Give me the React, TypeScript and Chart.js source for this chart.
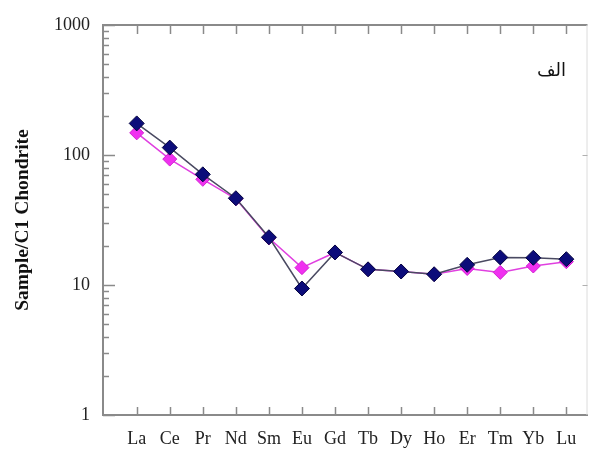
import React, { useEffect, useRef } from "react";
import { Chart, registerables } from "chart.js";

Chart.register(...registerables);

const elements = ["La", "Ce", "Pr", "Nd", "Sm", "Eu", "Gd", "Tb", "Dy", "Ho", "Er", "Tm", "Yb", "Lu"];
const sampleNavy = [175, 114, 71, 46.5, 23.3, 9.4, 17.8, 13.2, 12.7, 12.1, 14.3, 16.3, 16.2, 15.8];
const sampleMagenta = [148, 93, 65, 46, 23, 13.6, 17.8, 13.2, 12.7, 12.1, 13.4, 12.5, 14.0, 15.1];
const yDecades = [1, 10, 100, 1000];
const panelLabel = "الف";
const yTitle = "Sample/C1 Chondrite";

const AXIS = "#8a8a8a";

const tickPlugin = {
  id: "insideTicks",
  afterDraw(chart: any) {
    const { ctx, chartArea, scales } = chart;
    const xs = scales.x;
    const ys = scales.y;
    ctx.save();
    // top axis line
    ctx.strokeStyle = AXIS;
    ctx.lineWidth = 2;
    ctx.beginPath();
    ctx.moveTo(chartArea.left - 1, chartArea.top);
    ctx.lineTo(chartArea.right, chartArea.top);
    ctx.stroke();
    // right axis faint
    ctx.strokeStyle = "#dcdcdc";
    ctx.lineWidth = 1;
    ctx.beginPath();
    ctx.moveTo(chartArea.right - 0.5, chartArea.top);
    ctx.lineTo(chartArea.right - 0.5, chartArea.bottom);
    ctx.stroke();
    ctx.strokeStyle = "#b0b0b0";
    for (const d of [10, 100]) {
      const py = Math.round(ys.getPixelForValue(d)) + 0.5;
      ctx.beginPath();
      ctx.moveTo(chartArea.right, py);
      ctx.lineTo(chartArea.right - 5, py);
      ctx.stroke();
    }
    // x ticks bottom and top
    ctx.strokeStyle = AXIS;
    ctx.lineWidth = 1.5;
    elements.forEach((_, i) => {
      const px = Math.round(xs.getPixelForValue(i)) + 0.5;
      ctx.beginPath();
      ctx.moveTo(px, chartArea.bottom);
      ctx.lineTo(px, chartArea.bottom - 8);
      ctx.moveTo(px, chartArea.top);
      ctx.lineTo(px, chartArea.top + 9);
      ctx.stroke();
    });
    // y ticks (log minor + major)
    for (let k = 0; k < yDecades.length; k++) {
      const base = yDecades[k];
      for (let m = 1; m <= 9; m++) {
        const v = base * m;
        if (v > yDecades[yDecades.length - 1]) break;
        const py = Math.round(ys.getPixelForValue(v)) + 0.5;
        const len = m === 1 ? 12 : 6;
        ctx.beginPath();
        ctx.moveTo(chartArea.left, py);
        ctx.lineTo(chartArea.left + len, py);
        ctx.stroke();
      }
    }
    // panel label
    ctx.fillStyle = "#111";
    ctx.font = '18px "DejaVu Sans"';
    ctx.textAlign = "center";
    ctx.textBaseline = "middle";
    ctx.direction = "rtl";
    ctx.fillText(panelLabel, chartArea.right - 36, chartArea.top + 46);
    ctx.restore();
  },
};

export default function App() {
  const ref = useRef<HTMLCanvasElement | null>(null);
  useEffect(() => {
    if (!ref.current) return;
    const chart = new Chart(ref.current, {
      type: "line",
      data: {
        datasets: [
          {
            label: "navy",
            data: sampleNavy.map((y, i) => ({ x: i, y })),
            borderColor: "#4a4a62",
            borderWidth: 1.5,
            pointStyle: "rectRot",
            pointRadius: 7.5,
            pointBackgroundColor: "#0c0c7a",
            pointBorderColor: "#050540",
            pointBorderWidth: 1,
            tension: 0,
          },
          {
            label: "magenta",
            data: sampleMagenta.map((y, i) => ({ x: i, y })),
            borderColor: "#e040e0",
            borderWidth: 1.5,
            pointStyle: "rectRot",
            pointRadius: 7,
            pointBackgroundColor: "#f030f0",
            pointBorderColor: "#d020d0",
            pointBorderWidth: 1,
            tension: 0,
          },
        ],
      },
      options: {
        responsive: false,
        animation: false,
        layout: { padding: { top: 25, right: 2, left: 0, bottom: 0 } },
        plugins: { legend: { display: false }, tooltip: { enabled: false } },
        scales: {
          x: {
            type: "linear",
            min: -1.02,
            max: 13.64,
            grid: { display: false, drawTicks: false },
            border: { display: true, color: AXIS, width: 2 },
            afterFit: (s: any) => {
              s.height = 34;
            },
            afterBuildTicks: (s: any) => {
              s.ticks = elements.map((_, i) => ({ value: i }));
            },
            ticks: {
              autoSkip: false,
              maxRotation: 0,
              padding: 13,
              color: "#222",
              font: { family: '"Liberation Serif", serif', size: 18 },
              callback: (v: any) => elements[v as number] ?? "",
            },
          },
          y: {
            type: "logarithmic",
            min: 1,
            max: 1000,
            grid: { display: false, drawTicks: false },
            border: { display: true, color: AXIS, width: 2 },
            afterFit: (s: any) => {
              s.width = 103;
            },
            afterBuildTicks: (s: any) => {
              s.ticks = yDecades.map((v) => ({ value: v, major: true }));
            },
            ticks: {
              autoSkip: false,
              padding: 13,
              color: "#222",
              font: { family: '"Liberation Serif", serif', size: 18 },
              callback: (v: any) => String(v),
            },
            title: {
              display: true,
              text: yTitle,
              color: "#111",
              padding: { top: 11, bottom: 0 },
              font: { family: '"Liberation Serif", serif', size: 19.5, weight: "bold" },
            },
          },
        },
      },
      plugins: [tickPlugin],
    });
    return () => chart.destroy();
  }, []);
  return (
    <div style={{ position: "absolute", left: 0, top: 0, width: 596, height: 449, background: "#fff" }}>
      <canvas ref={ref} width={596} height={449} />
    </div>
  );
}
